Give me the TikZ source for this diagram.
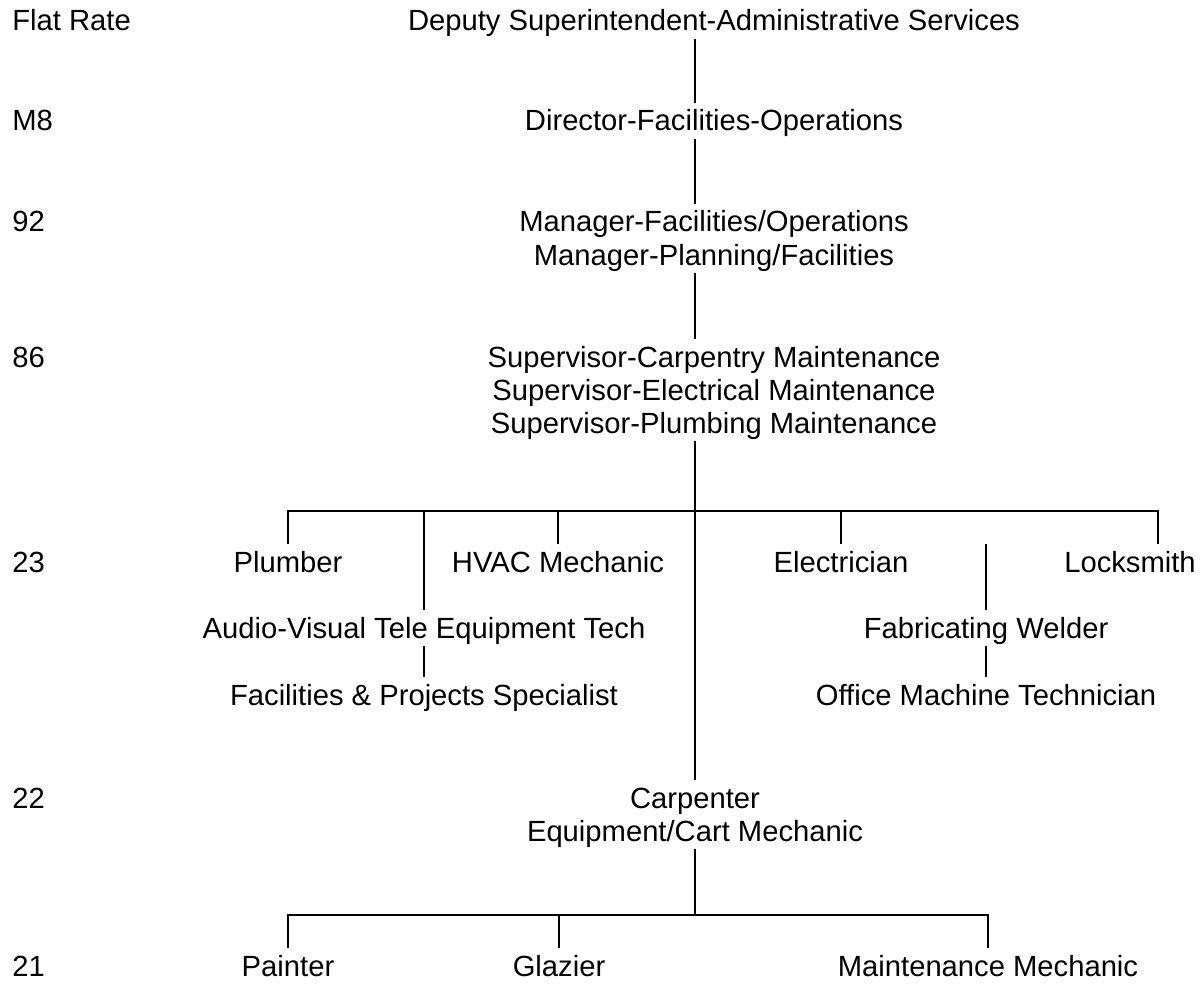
\documentclass[tikz,border=0pt]{standalone}
\usepackage{fontspec}
\setmainfont{Liberation Sans}
\usepackage{tikz}

\begin{document}
\begin{tikzpicture}[
    x=0.5pt, y=-0.5pt,
    font=\fontsize{14.6pt}{16.5pt}\selectfont,
    title/.style={
        anchor=base,
        inner xsep=0pt,
        inner ysep=0pt,
        text height=14pt,
        text depth=4pt
    },
    grade/.style={
        anchor=base west,
        inner sep=0pt
    },
    link/.style={
        line width=1pt
    }
]
\useasboundingbox (0,0) rectangle (1203,984);

% Pay grades
\node[grade] (gFlat) at (12,31) {Flat Rate};
\node[grade] (gM8) at (12,131) {M8};
\node[grade] (g92) at (12,232) {92};
\node[grade] (g86) at (12,367) {86};
\node[grade] (g23) at (12,572) {23};
\node[grade] (g22) at (12,808) {22};
\node[grade] (g21) at (12,976) {21};

% Management chain
\coordinate (spine) at (695,0);
\node[title] (deputy) at (714,31) {Deputy Superintendent-Administrative Services};
\node[title] (director) at (714,131) {Director-Facilities-Operations};
\node[title] (mgrOps) at (714,232) {Manager-Facilities/Operations};
\node[title] (mgrPlan) at (714,265) {Manager-Planning/Facilities};
\node[title] (supCarp) at (714,367) {Supervisor-Carpentry Maintenance};
\node[title] (supElec) at (714,400) {Supervisor-Electrical Maintenance};
\node[title] (supPlumb) at (714,433) {Supervisor-Plumbing Maintenance};

\draw[link] (deputy.south -| spine) -- (director.north -| spine);
\draw[link] (director.south -| spine) -- (mgrOps.north -| spine);
\draw[link] (mgrPlan.south -| spine) -- (supCarp.north -| spine);

% Grade 23 trades
\node[title] (plumber) at (288,572) {Plumber};
\node[title] (hvac) at (558,572) {HVAC Mechanic};
\node[title] (electrician) at (841,572) {Electrician};
\node[title] (locksmith) at (1130,572) {Locksmith};
\node[title] (avTech) at (424,638) {Audio-Visual Tele Equipment Tech};
\node[title] (fpSpec) at (424,705) {Facilities \& Projects Specialist};
\node[title] (welder) at (986,638) {Fabricating Welder};
\node[title] (omTech) at (986,705) {Office Machine Technician};

% Grade 22 and 21
\node[title] (carpenter) at (695,808) {Carpenter};
\node[title] (cartMech) at (695,841) {Equipment/Cart Mechanic};
\node[title] (painter) at (288,976) {Painter};
\node[title] (glazier) at (559,976) {Glazier};
\node[title] (maintMech) at (988,976) {Maintenance Mechanic};

\coordinate (tradesBus) at (695,511);
\coordinate (shopBus) at (695,915);

\draw[link] (supPlumb.south -| carpenter) -- (carpenter.north);
\draw[link] (plumber.north) |- (tradesBus) -| ([xshift=14pt]locksmith.north);
\draw[link] (hvac.north) -- (hvac.north |- tradesBus);
\draw[link] (electrician.north) -- (electrician.north |- tradesBus);
\draw[link] (avTech.north) -- (avTech.north |- tradesBus);
\draw[link] (avTech.south) -- (fpSpec.north);
\draw[link] (welder.north) -- (welder.north |- electrician.north);
\draw[link] (welder.south) -- (omTech.north);

\draw[link] (cartMech.south) -- (shopBus);
\draw[link] (painter.north) |- (shopBus) -| (maintMech.north);
\draw[link] (glazier.north) -- (glazier.north |- shopBus);

\end{tikzpicture}
\end{document}
